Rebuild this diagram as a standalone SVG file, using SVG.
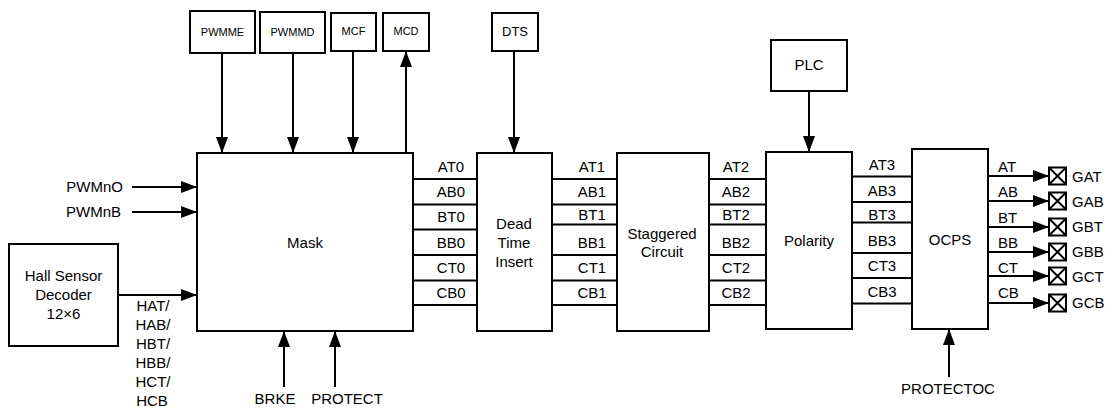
<svg xmlns="http://www.w3.org/2000/svg" width="1108" height="410" viewBox="0 0 1108 410">
<style>
.box{fill:#fff;stroke:#000;stroke-width:2}
.ln{fill:none;stroke:#000;stroke-width:2}
.t{font-family:"Liberation Sans",Arial,sans-serif;font-size:15px;fill:#000}
.c{text-anchor:middle}
.e{text-anchor:end}
.s11{font-size:11px}
.s13{font-size:13px}
</style>
<defs>
<marker id="ah" markerUnits="userSpaceOnUse" markerWidth="16" markerHeight="12" refX="16" refY="6" orient="auto">
<path d="M0,0 L16,6 L0,12 z" fill="#000"/>
</marker>
</defs>
<rect width="1108" height="410" fill="#fff"/>

<g id="connectors">
<line class="ln" x1="222" y1="53" x2="222" y2="153" marker-end="url(#ah)"/>
<line class="ln" x1="293" y1="53" x2="293" y2="153" marker-end="url(#ah)"/>
<line class="ln" x1="353" y1="51" x2="353" y2="153" marker-end="url(#ah)"/>
<line class="ln" x1="406" y1="153" x2="406" y2="51" marker-end="url(#ah)"/>
<line class="ln" x1="514" y1="51" x2="514" y2="153" marker-end="url(#ah)"/>
<line class="ln" x1="809" y1="91" x2="809" y2="152" marker-end="url(#ah)"/>
<line class="ln" x1="132" y1="187" x2="197" y2="187" marker-end="url(#ah)"/>
<line class="ln" x1="132" y1="212" x2="197" y2="212" marker-end="url(#ah)"/>
<line class="ln" x1="118" y1="295" x2="197" y2="295" marker-end="url(#ah)"/>
<line class="ln" x1="284" y1="387" x2="284" y2="331" marker-end="url(#ah)"/>
<line class="ln" x1="335" y1="387" x2="335" y2="331" marker-end="url(#ah)"/>
<line class="ln" x1="949" y1="377" x2="949" y2="329" marker-end="url(#ah)"/>
<!-- Mask to DT -->
<path class="ln" d="M413,179H477M413,204.5H477M413,229.5H477M413,255H477M413,280.5H477M413,305H477"/>
<!-- DT to Staggered -->
<path class="ln" d="M552,179H617M552,204.5H617M552,224.5H617M552,255H617M552,280.5H617M552,305H617"/>
<!-- Staggered to Polarity -->
<path class="ln" d="M709,179H766M709,204.5H766M709,224.5H766M709,255H766M709,280.5H766M709,305H766"/>
<!-- Polarity to OCPS -->
<path class="ln" d="M852,176.5H912M852,202H912M852,222.5H912M852,253H912M852,278H912M852,303.5H912"/>
<!-- outputs -->
<line class="ln" x1="988" y1="176" x2="1049" y2="176" marker-end="url(#ah)"/>
<line class="ln" x1="988" y1="201" x2="1049" y2="201" marker-end="url(#ah)"/>
<line class="ln" x1="988" y1="227" x2="1049" y2="227" marker-end="url(#ah)"/>
<line class="ln" x1="988" y1="252" x2="1049" y2="252" marker-end="url(#ah)"/>
<line class="ln" x1="988" y1="276" x2="1049" y2="276" marker-end="url(#ah)"/>
<line class="ln" x1="988" y1="303" x2="1049" y2="303" marker-end="url(#ah)"/>
</g>

<g id="labels">
<text class="t e" x="123" y="192">PWMnO</text>
<text class="t e" x="121" y="217">PWMnB</text>
<text class="t c" x="153" y="310.5">HAT/</text>
<text class="t c" x="153" y="329.5">HAB/</text>
<text class="t c" x="153" y="348.5">HBT/</text>
<text class="t c" x="153" y="367.5">HBB/</text>
<text class="t c" x="153" y="386.5">HCT/</text>
<text class="t c" x="152" y="405.5">HCB</text>
<text class="t c" x="275" y="403.5">BRKE</text>
<text class="t c" x="347" y="403.5">PROTECT</text>
<text class="t c" x="948" y="393.5">PROTECTOC</text>
<g class="t c">
<text x="451" y="171.5">AT0</text><text x="451" y="196.5">AB0</text><text x="451" y="222">BT0</text><text x="451" y="247.5">BB0</text><text x="451" y="272.5">CT0</text><text x="451" y="297.5">CB0</text>
<text x="592" y="171.5">AT1</text><text x="592" y="196.5">AB1</text><text x="592" y="220">BT1</text><text x="592" y="247.5">BB1</text><text x="592" y="272.5">CT1</text><text x="592" y="297.5">CB1</text>
<text x="736" y="171.5">AT2</text><text x="736" y="196.5">AB2</text><text x="736" y="220">BT2</text><text x="736" y="247.5">BB2</text><text x="736" y="272.5">CT2</text><text x="736" y="297.5">CB2</text>
<text x="882" y="169.5">AT3</text><text x="882" y="195.5">AB3</text><text x="882" y="220">BT3</text><text x="882" y="245.5">BB3</text><text x="882" y="270.5">CT3</text><text x="882" y="296.5">CB3</text>
</g>
<g class="t">
<text x="998" y="172">AT</text><text x="998" y="197">AB</text><text x="998" y="223">BT</text><text x="998" y="248">BB</text><text x="998" y="273">CT</text><text x="998" y="298">CB</text>
<text x="1072" y="182">GAT</text><text x="1072" y="207">GAB</text><text x="1072" y="232">GBT</text><text x="1072" y="257">GBB</text><text x="1072" y="282">GCT</text><text x="1072" y="308">GCB</text>
</g>
</g>

<g id="pins">
<g transform="translate(1049,167.5)"><rect class="box" width="17" height="17" stroke-width="1.5"/><path class="ln" stroke-width="1.2" d="M0,0L17,17M17,0L0,17"/></g>
<g transform="translate(1049,192.5)"><rect class="box" width="17" height="17" stroke-width="1.5"/><path class="ln" stroke-width="1.2" d="M0,0L17,17M17,0L0,17"/></g>
<g transform="translate(1049,218.5)"><rect class="box" width="17" height="17" stroke-width="1.5"/><path class="ln" stroke-width="1.2" d="M0,0L17,17M17,0L0,17"/></g>
<g transform="translate(1049,243.5)"><rect class="box" width="17" height="17" stroke-width="1.5"/><path class="ln" stroke-width="1.2" d="M0,0L17,17M17,0L0,17"/></g>
<g transform="translate(1049,267.5)"><rect class="box" width="17" height="17" stroke-width="1.5"/><path class="ln" stroke-width="1.2" d="M0,0L17,17M17,0L0,17"/></g>
<g transform="translate(1049,294.5)"><rect class="box" width="17" height="17" stroke-width="1.5"/><path class="ln" stroke-width="1.2" d="M0,0L17,17M17,0L0,17"/></g>
</g>

<g id="pwmme"><rect class="box" x="190" y="11" width="65" height="42"/><text class="t c s11" x="222.5" y="36">PWMME</text></g>
<g id="pwmmd"><rect class="box" x="260" y="12" width="65" height="41"/><text class="t c s11" x="292.5" y="36">PWMMD</text></g>
<g id="mcf"><rect class="box" x="331" y="13" width="45" height="38"/><text class="t c s11" x="353.5" y="35">MCF</text></g>
<g id="mcd"><rect class="box" x="383" y="13" width="46" height="38"/><text class="t c s11" x="406" y="35">MCD</text></g>
<g id="dts"><rect class="box" x="492" y="13" width="46" height="38"/><text class="t c s13" x="515" y="36">DTS</text></g>
<g id="plc"><rect class="box" x="771" y="40" width="76" height="51"/><text class="t c" x="809" y="69.5">PLC</text></g>
<g id="hall"><rect class="box" x="9" y="244" width="109" height="102"/><text class="t c" x="63.5" y="281">Hall Sensor</text><text class="t c" x="63.5" y="300">Decoder</text><text class="t c" x="63.5" y="318.5">12×6</text></g>
<g id="mask"><rect class="box" x="197" y="153" width="216" height="178"/><text class="t c" x="305" y="247.5">Mask</text></g>
<g id="deadtime"><rect class="box" x="477" y="153" width="75" height="178"/><text class="t c" x="514" y="228.5">Dead</text><text class="t c" x="514" y="247.5">Time</text><text class="t c" x="514" y="266.5">Insert</text></g>
<g id="staggered"><rect class="box" x="617" y="153" width="92" height="178"/><text class="t c" x="662" y="238.5">Staggered</text><text class="t c" x="662" y="256.5">Circuit</text></g>
<g id="polarity"><rect class="box" x="766" y="152" width="86" height="177"/><text class="t c" x="809" y="245.5">Polarity</text></g>
<g id="ocps"><rect class="box" x="912" y="149" width="76" height="180"/><text class="t c" x="950" y="244.5">OCPS</text></g>
</svg>
